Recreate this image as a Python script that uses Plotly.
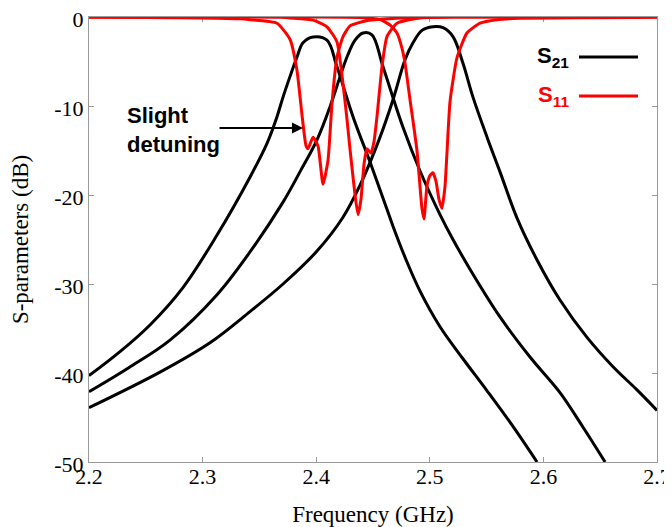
import plotly.graph_objects as go

# ---------------- data ----------------
s21_a_f = [2.2, 2.2273, 2.2537, 2.2827, 2.3127, 2.3417, 2.3567, 2.3655, 2.3708, 2.3769,
           2.3831, 2.3884, 2.3972, 2.4095, 2.4183, 2.4324, 2.4474, 2.4623, 2.4676, 2.4795,
           2.4914, 2.509, 2.5292, 2.5504, 2.5732, 2.5944]
s21_a_db = [-40.3, -37.6, -34.6, -30.4, -24.5, -18.0, -14.2, -11.2, -9.0, -6.7,
            -4.5, -2.9, -2.25, -2.6, -5.6, -11.2, -16.3, -21.6, -23.5, -27.4,
            -30.8, -34.8, -38.4, -42.0, -46.0, -50.0]

s21_b_f = [2.2, 2.235, 2.2713, 2.3127, 2.3417, 2.3708, 2.3857, 2.4007, 2.4121, 2.421,
           2.4271, 2.4342, 2.4412, 2.4491, 2.4588, 2.4764, 2.4914, 2.509, 2.5204, 2.538,
           2.5618, 2.5882, 2.6146, 2.6349, 2.6543]
s21_b_db = [-42.1, -39.4, -36.3, -31.2, -26.4, -20.8, -17.4, -13.8, -10.1, -6.7,
            -4.5, -2.6, -1.8, -2.0, -5.6, -12.4, -17.3, -22.2, -25.0, -28.9,
            -33.7, -38.2, -42.2, -46.1, -50.0]

s21_c_f = [2.2, 2.2625, 2.3065, 2.3417, 2.3708, 2.4007, 2.4236, 2.4386, 2.4562, 2.4676,
           2.4782, 2.4852, 2.4931, 2.5028, 2.5116, 2.5204, 2.5292, 2.538, 2.5504, 2.5618,
           2.5768, 2.5944, 2.6146, 2.6384, 2.6613, 2.6824, 2.7]
s21_c_db = [-43.9, -39.9, -36.6, -33.1, -30.0, -26.3, -22.5, -18.9, -13.5, -9.3,
            -4.8, -2.9, -1.5, -1.1, -1.2, -2.2, -5.2, -9.0, -13.5, -17.4,
            -22.6, -27.3, -31.8, -36.0, -39.3, -41.9, -44.2]

s11_a_f = [2.2, 2.25, 2.3, 2.3329, 2.3417, 2.3655, 2.3769, 2.3831, 2.3875, 2.3911,
           2.3928, 2.3972, 2.4016, 2.406, 2.4104, 2.4139, 2.4183, 2.4236, 2.4298, 2.4447,
           2.4764, 2.52, 2.7]
s11_a_db = [0.0, -0.05, -0.1, -0.2, -0.3, -0.7, -2.5, -6.0, -11.0, -14.5,
            -14.8, -13.5, -14.5, -18.8, -16.1, -9.7, -4.5, -2.2, -1.0, -0.4,
            -0.1, 0.0, 0.0]

s11_b_f = [2.2, 2.3681, 2.3769, 2.3972, 2.4095, 2.4183, 2.4236, 2.4271, 2.4298, 2.4342,
           2.4368, 2.4394, 2.4421, 2.4447, 2.4482, 2.4509, 2.4535, 2.4579, 2.4623, 2.4711,
           2.4914, 2.5266, 2.7]
s11_b_db = [0.0, 0.0, -0.1, -0.35, -1.1, -2.8, -7.5, -11.5, -14.9, -20.0,
            -22.2, -20.5, -16.5, -14.8, -15.3, -14.0, -11.2, -5.6, -2.2, -0.7,
            -0.1, 0.0, 0.0]

s11_c_f = [2.2, 2.3857, 2.4386, 2.4562, 2.465, 2.4711, 2.4755, 2.4782, 2.4826, 2.4887,
           2.4931, 2.4949, 2.4975, 2.5002, 2.5028, 2.5055, 2.5081, 2.5107, 2.5134, 2.5151,
           2.5178, 2.5239, 2.5327, 2.5442, 2.5592, 2.5794, 2.6824, 2.7]
s11_c_db = [0.0, 0.0, -0.05, -0.3, -0.9, -1.8, -3.5, -5.2, -9.3, -15.0,
            -21.5, -22.7, -19.0, -17.8, -17.5, -18.5, -20.5, -21.5, -19.0, -15.3,
            -9.5, -4.6, -1.8, -0.7, -0.3, -0.15, -0.05, 0.0]

x_ticks = [2.2, 2.3, 2.4, 2.5, 2.6, 2.7]
y_ticks = [-50, -40, -30, -20, -10, 0]

# ---------------- figure ----------------
# the page body has an 8 px default margin, so the figure is drawn 8 px in
W, H = 664, 519
L, R, T, B = 81, 15, 9, 65
PW, PH = W - L - R, H - T - B
OFF = 8  # page offset of the figure


def px(xp):  # page pixel -> paper x
    return (xp - OFF - L) / PW


def py(yp):  # page pixel -> paper y
    return (H - B - (yp - OFF)) / PH


fig = go.Figure()
black_line = dict(color="black", width=3, shape="spline", smoothing=1.0)
red_line = dict(color="#ff0000", width=3, shape="spline", smoothing=0.5)

for f, d in [(s21_a_f, s21_a_db), (s21_b_f, s21_b_db), (s21_c_f, s21_c_db)]:
    fig.add_trace(go.Scatter(x=f, y=d, mode="lines", line=black_line,
                             name="S21", showlegend=False, hoverinfo="skip"))
for f, d in [(s11_a_f, s11_a_db), (s11_b_f, s11_b_db), (s11_c_f, s11_c_db)]:
    fig.add_trace(go.Scatter(x=f, y=d, mode="lines", line=red_line,
                             name="S11", showlegend=False, hoverinfo="skip"))

serif = "Liberation Serif, Times New Roman, serif"
sans = "Liberation Sans, Arial, sans-serif"

axis_common = dict(showgrid=False, zeroline=False, showline=True, linecolor="#9a9a9a",
                   linewidth=1, mirror="ticks", ticks="inside", ticklen=5,
                   tickcolor="#9a9a9a", tickwidth=1, layer="below traces",
                   ticklabeloverflow="allow",
                   tickfont=dict(family=serif, size=22, color="black"))

fig.update_layout(
    width=W, height=H,
    margin=dict(l=L, r=R, t=T, b=B, autoexpand=False),
    paper_bgcolor="white", plot_bgcolor="white",
    showlegend=False,
    xaxis=dict(range=[2.2, 2.7], tickvals=x_ticks, ticktext=[f"{v:.1f}" for v in x_ticks],
               ticklabelstandoff=-5,
               title=dict(text="Frequency (GHz)", font=dict(family=serif, size=23, color="black"),
                          standoff=18),
               **axis_common),
    yaxis=dict(range=[-50, 0], tickvals=y_ticks, ticktext=[str(v) for v in y_ticks],
               ticklabelshift=2,
               title=dict(text="S-parameters (dB)", font=dict(family=serif, size=23, color="black"),
                          standoff=20),
               **axis_common),
)

# annotation "Slight detuning" with arrow
fig.add_annotation(x=2.3884, y=-12.47, xref="x", yref="y", text="", showarrow=True,
                   ax=-85, ay=0, axref="pixel", ayref="pixel",
                   arrowhead=2, arrowsize=1.1, arrowwidth=2, arrowcolor="black")
fig.add_annotation(x=px(125), y=py(130), xref="paper", yref="paper",
                   text="<b>Slight<br>detuning</b>", showarrow=False,
                   xanchor="left", yanchor="middle", align="left",
                   font=dict(family=sans, size=22, color="black"))

# custom legend
for label, color, yp in [("S<sub>21</sub>", "black", 57), ("S<sub>11</sub>", "#ff0000", 96)]:
    fig.add_annotation(x=px(571), y=py(yp), xref="paper", yref="paper",
                       text=f"<b>{label}</b>", showarrow=False,
                       xanchor="right", yanchor="middle",
                       font=dict(family=sans, size=22, color=color))
    fig.add_shape(type="line", xref="paper", yref="paper",
                  x0=px(579), x1=px(638), y0=py(yp), y1=py(yp),
                  line=dict(color=color, width=3))

fig.write_html("out.html")
